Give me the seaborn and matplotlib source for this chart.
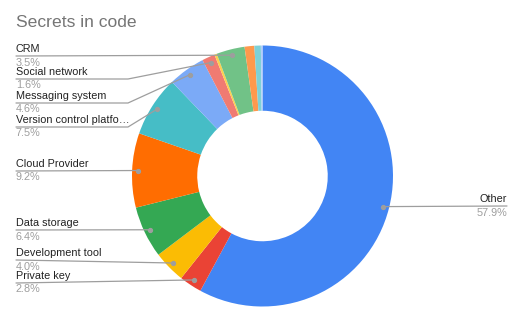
import numpy as np
import matplotlib
matplotlib.use("Agg")
import matplotlib.pyplot as plt
import seaborn as sns

sns.set_theme(style="white")
plt.rcParams['font.family'] = ['Liberation Sans', 'DejaVu Sans']

# ---- data (clockwise from 12 o'clock) ----
categories = ["Other", "Private key", "Development tool", "Data storage",
              "Cloud Provider", "Version control platfo\u2026", "Messaging system",
              "Social network", "", "CRM", "", "", ""]
values = [57.9, 2.8, 4.0, 6.4, 9.2, 7.5, 4.6, 1.6, 0.3, 3.5, 1.2, 0.8, 0.2]
pct_labels = ["57.9%", "2.8%", "4.0%", "6.4%", "9.2%", "7.5%", "4.6%",
              "1.6%", "", "3.5%", "", "", ""]
colors = ["#4285F4", "#EA4335", "#FBBC04", "#34A853", "#FF6D01", "#46BDC6",
          "#7BAAF7", "#F07B72", "#FCD04F", "#71C287", "#FF994D", "#7ED1D7",
          "#B3CEFB"]

# ---- layout (pixel units, y measured from top) ----
W, H = 524, 324
cx, cy_top, R = 262.5, 176.0, 130.5
label_line_y = {"Other": 206, "Private key": 283, "Development tool": 260,
                "Data storage": 230, "Cloud Provider": 171,
                "Version control platfo\u2026": 127, "Messaging system": 103,
                "Social network": 79, "CRM": 56}

fig = plt.figure(figsize=(W / 100, H / 100), dpi=100)
ax = fig.add_axes([0, 0, 1, 1])
ax.set_xlim(0, W)
ax.set_ylim(0, H)
ax.set_aspect('equal')
ax.axis('off')

cy = H - cy_top
wedges, _ = ax.pie(values, colors=colors, startangle=90, counterclock=False,
                   radius=R, center=(cx, cy),
                   wedgeprops=dict(width=R * 0.5, linewidth=0))
ax.set_xlim(0, W)
ax.set_ylim(0, H)

line_col = "#9e9e9e"
fs = 7.8
for w, name, pct in zip(wedges, categories, pct_labels):
    if not name:
        continue
    mid = np.deg2rad((w.theta1 + w.theta2) / 2)
    r_dot = R * 0.955
    dx, dy = cx + r_dot * np.cos(mid), cy + r_dot * np.sin(mid)
    ly = H - label_line_y[name]
    ax.plot([dx], [dy], 'o', ms=2.8, color=line_col, zorder=5)
    if dx > cx:
        x_end = 507
        ax.plot([dx, x_end], [dy, ly], color=line_col, lw=0.9, zorder=4)
        ax.text(x_end, ly + 2, name, ha='right', va='bottom', fontsize=fs, color="#222222")
        ax.text(x_end, ly - 1.5, pct, ha='right', va='top', fontsize=fs, color="#9e9e9e")
    else:
        x0 = 16
        if abs(dy - ly) < 4:
            ax.plot([x0, dx], [ly, dy], color=line_col, lw=0.9, zorder=4)
        else:
            ex = 128
            ax.plot([x0, ex, dx], [ly, ly, dy], color=line_col, lw=0.9, zorder=4)
        ax.text(x0, ly + 2, name, ha='left', va='bottom', fontsize=fs, color="#222222")
        ax.text(x0, ly - 1.5, pct, ha='left', va='top', fontsize=fs, color="#9e9e9e")

fig.text(16 / W, 1 - 15 / H, "Secrets in code", ha='left', va='top',
         fontsize=12.6, color="#757575")

fig.savefig("out.png", dpi=100)
